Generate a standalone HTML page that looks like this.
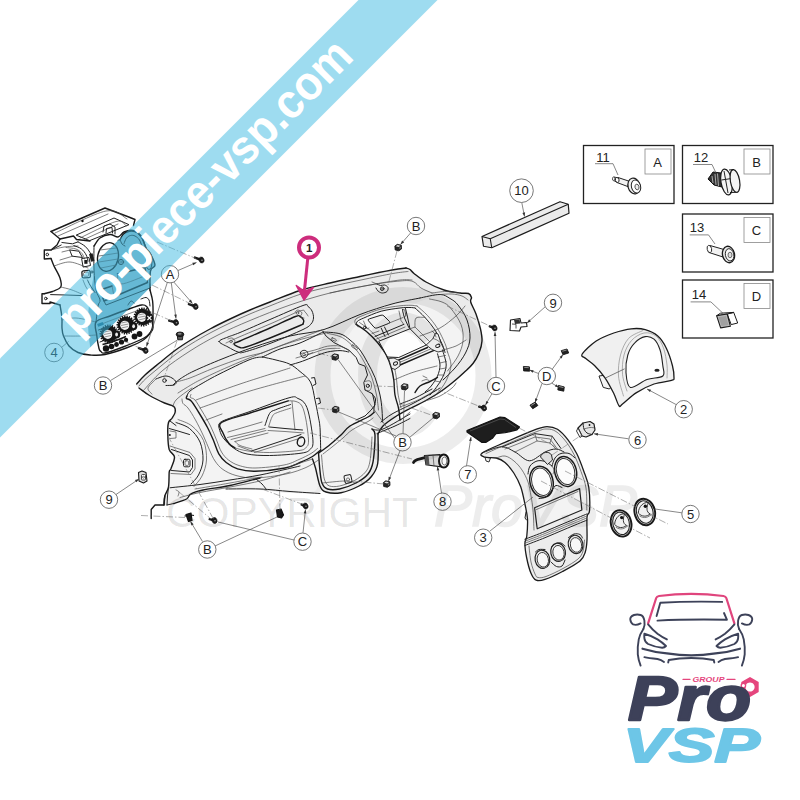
<!DOCTYPE html>
<html><head><meta charset="utf-8"><title>pro-piece-vsp.com</title>
<style>
html,body{margin:0;padding:0;background:#fff;}
body{width:800px;height:800px;overflow:hidden;position:relative;font-family:"Liberation Sans",sans-serif;}
svg{position:absolute;left:0;top:0;display:block;}
.ol{fill:none;stroke:#1a1a1a;stroke-width:1.4;stroke-linecap:round;stroke-linejoin:round;}
.ln{fill:none;stroke:#222;stroke-width:1;stroke-linecap:round;stroke-linejoin:round;}
.th{fill:none;stroke:#484848;stroke-width:.7;stroke-linecap:round;stroke-linejoin:round;}
.th2{fill:none;stroke:#999;stroke-width:.8;stroke-linecap:round;}
.ld{fill:none;stroke:#555;stroke-width:.7;}
.dash{fill:none;stroke:#777;stroke-width:.6;stroke-dasharray:7 2 1.5 2;}
.co circle{fill:#fff;stroke:#555;stroke-width:.8;}
.co text,.lbl{font-family:"Liberation Sans",sans-serif;font-size:13px;fill:#222;text-anchor:middle;}
.body{fill:#f1f1f1;stroke:#222;stroke-width:1.1;stroke-linejoin:round;}
.bx{fill:#fff;stroke:#222;stroke-width:1.3;}
.bxi{fill:#fff;stroke:#888;stroke-width:.8;}
</style></head>
<body>
<svg width="800" height="800" viewBox="0 0 800 800">
<rect width="800" height="800" fill="#fff"/>
<g id="dash_main">
<path d="M136.7,384 C137.7,381.8 141.1,378.6 145,375 C148.9,371.4 155,366.6 160,362.5 C165,358.4 170,354.2 175,350.5 C180,346.8 184.2,344.1 190,340.5 C195.8,336.9 203.3,332.6 210,329 C216.7,325.4 223.3,322.2 230,319 C236.7,315.8 243.3,312.8 250,310 C256.7,307.2 261.7,305.2 270,302 C278.3,298.8 290,293.7 300,290.5 C310,287.3 320,285.3 330,283 C340,280.7 349.7,278.7 360,276.5 C370.3,274.3 384.3,271.4 392,270 C399.7,268.6 403,268.1 406,268 C409,267.9 408.7,268.6 410,269.5 C411.3,270.4 411.3,271.4 414,273.5 C416.7,275.6 421,279.2 426,282 C431,284.8 438.3,288.2 444,290 C449.7,291.8 455.9,292.4 460,293 C464.1,293.6 466.6,292.8 468.5,293.5 C470.4,294.2 471.1,296.1 471.5,297.5 C471.9,298.9 469.9,299.2 470.7,302 C471.4,304.8 474.4,309.5 476,314 C477.6,318.5 479.5,324.5 480.5,329 C481.5,333.5 482.2,337 482,341 C481.8,345 480.5,349.2 479,353 C477.5,356.8 475.5,360.2 473,363.5 C470.5,366.8 467.5,369.2 464,372.5 C460.5,375.8 456,379.8 452,383 C448,386.2 444.5,389 440,392 C435.5,395 430,398.2 425,401 C420,403.8 415,405.8 410,408.5 C405,411.2 399.5,414.1 395,417 C390.5,419.9 385.8,423.2 383,426 C380.2,428.8 378.9,427.8 378,434 C377.1,440.2 378.9,456.3 377.7,463.5 C376.5,470.7 374.1,473.2 371,477 C367.9,480.8 364,483.4 359,486 C354,488.6 346.5,491.7 341,492.7 C335.5,493.7 329.3,492.8 326,492 C322.7,491.2 322.3,487.8 321,488 C319.7,488.2 323.2,492.2 318,493 C312.8,493.8 299.7,493.5 290,493 C280.3,492.5 270.7,490.7 260,490 C249.3,489.3 236.7,488.4 226,489 C215.3,489.6 203.7,491.8 196,493.5 C188.3,495.2 184,497.4 180,499 C176,500.6 174.5,502 172,503 C169.5,504 166.2,506.2 165,505 C163.8,503.8 164.2,499 164.8,496 C165.3,493 167.8,491 168.5,487 C169.2,483 168.9,475 169.2,472 C169.6,469 169.9,471.5 170.8,469 C171.6,466.5 174.8,460.2 174.5,457 C174.2,453.8 170.4,453.2 169.2,449.5 C168.1,445.8 167.9,439 167.8,434.5 C167.6,430 167.8,425.2 168.5,422.5 C169.2,419.8 171.1,419.8 172.2,418 C173.4,416.2 175,413.9 175.2,412 C175.5,410.1 175.5,408 173.8,406.5 C172,405 168.5,404.8 164.5,403 C160.5,401.2 153.8,398 149.5,395.5 C145.2,393 141.1,389.9 139,388 C136.9,386.1 135.7,386.2 136.7,384Z" fill="#ebebeb" stroke="none"/>
<path d="M186,397 C190.3,393.2 196,388 202,384 C208,380 214,377 222,373 C230,369 243,362.7 250,360 C257,357.3 257.3,359.5 264,357 C270.7,354.5 280.3,349 290,345 C299.7,341 312.8,334.3 322,333 C331.2,331.7 339.2,338.3 345,337 C350.8,335.7 350.5,329.4 357,325 C363.5,320.6 376,313.4 384,310.5 C392,307.6 397.3,309.4 405,307.5 C412.7,305.6 422.5,298.9 430,299 C437.5,299.1 444.8,303.8 450,308 C455.2,312.2 458.8,318.5 461,324 C463.2,329.5 463.5,335.7 463,341 C462.5,346.3 460.7,351 458,356 C455.3,361 450.7,365.8 447,371 C443.3,376.2 442.2,381.3 436,387 C429.8,392.7 416.8,400.3 410,405 C403.2,409.7 399.5,411.8 395,415 C390.5,418.2 386.2,420.8 383,424 C379.8,427.2 377.3,427.7 376,434 C374.7,440.3 376.3,455.3 375,462 C373.7,468.7 371.2,470.3 368,474 C364.8,477.7 360.7,481.3 356,484 C351.3,486.7 344.8,489.1 340,490 C335.2,490.9 330.2,490.5 327,489.5 C323.8,488.5 322.5,486.2 321,484 C319.5,481.8 319,474.8 318,476 C317,477.2 319.7,488.6 315,491 C310.3,493.4 299.2,491 290,490.5 C280.8,490 270.7,488.6 260,488 C249.3,487.4 236.7,486.5 226,487 C215.3,487.5 203.7,489.3 196,491 C188.3,492.7 184.7,495 180,497 C175.3,499 170,503.5 168,503 C166,502.5 167.7,497.8 168,494 C168.3,490.2 169.4,484 170,480 C170.6,476 170.8,473.2 171.5,470 C172.2,466.8 173.9,464 174,461 C174.1,458 172.8,455.7 172,452 C171.2,448.3 170,442.7 169.5,439 C169,435.3 168.9,432.7 169,430 C169.1,427.3 169.2,424.8 170,423 C170.8,421.2 172.8,420.8 174,419 C175.2,417.2 176.7,414 177,412 C177.3,410 174.5,409.5 176,407 C177.5,404.5 181.7,400.8 186,397Z" fill="#f3f3f3" stroke="none"/>
<path class="ol" d="M136.7,384 C138.1,382.5 141.1,378.6 145,375 C148.9,371.4 155,366.6 160,362.5 C165,358.4 170,354.2 175,350.5 C180,346.8 184.2,344.1 190,340.5 C195.8,336.9 203.3,332.6 210,329 C216.7,325.4 223.3,322.2 230,319 C236.7,315.8 243.3,312.8 250,310 C256.7,307.2 261.7,305.2 270,302 C278.3,298.8 290,293.7 300,290.5 C310,287.3 320,285.3 330,283 C340,280.7 349.7,278.7 360,276.5 C370.3,274.3 384.3,271.4 392,270 C399.7,268.6 403.7,268.3 406,268"/>
<path class="ol" d="M406,268 C406.7,268.2 408.7,268.6 410,269.5 C411.3,270.4 411.3,271.4 414,273.5 C416.7,275.6 421,279.2 426,282 C431,284.8 438.3,288.2 444,290 C449.7,291.8 455.9,292.4 460,293 C464.1,293.6 466.6,292.8 468.5,293.5 C470.4,294.2 471.1,296.1 471.5,297.5 C471.9,298.9 469.9,299.2 470.7,302 C471.4,304.8 474.4,309.5 476,314 C477.6,318.5 479.5,324.5 480.5,329 C481.5,333.5 482.2,337 482,341 C481.8,345 480.5,349.2 479,353 C477.5,356.8 475.5,360.2 473,363.5 C470.5,366.8 467.5,369.2 464,372.5 C460.5,375.8 456,379.8 452,383 C448,386.2 444.5,389 440,392 C435.5,395 430,398.2 425,401 C420,403.8 415,405.8 410,408.5 C405,411.2 399.5,414.1 395,417 C390.5,419.9 385.8,423.2 383,426 C380.2,428.8 378.8,432.7 378,434"/>
<path class="ol" d="M378,434 C377.9,438.9 378.9,456.3 377.7,463.5 C376.5,470.7 374.1,473.2 371,477 C367.9,480.8 364,483.4 359,486 C354,488.6 346.5,491.7 341,492.7 C335.5,493.7 329.5,493.1 326,492 C322.5,490.9 321.8,490 320,486 C318.2,482 316.8,472.5 315.5,468 C314.2,463.5 313,460.5 312.5,459"/>
<path class="ol" d="M164,505 C164.1,503.5 164,499 164.8,496 C165.5,493 167.8,491 168.5,487 C169.2,483 168.9,475 169.2,472 C169.6,469 169.9,471.5 170.8,469 C171.6,466.5 174.8,460.2 174.5,457 C174.2,453.8 170.4,453.2 169.2,449.5 C168.1,445.8 167.9,439 167.8,434.5 C167.6,430 167.8,425.2 168.5,422.5 C169.2,419.8 171.1,419.8 172.2,418 C173.4,416.2 175,413.9 175.2,412 C175.5,410.1 175.5,408 173.8,406.5 C172,405 168.5,404.8 164.5,403 C160.5,401.2 153.8,398 149.5,395.5 C145.2,393 140.8,389.2 139,388"/>
<path class="ol" d="M164.8,496 L164,505 L155,505 L151.2,509.5 L151.2,518.5"/>
<path class="ln" d="M168.5,487 L167.5,496 L167,505"/>
<path class="th" d="M139,386 C140.2,384.8 142.3,381.8 146,378.5 C149.7,375.2 156,370.1 161,366 C166,361.9 171,357.7 176,354 C181,350.3 185.2,347.6 191,344 C196.8,340.4 204.3,336.1 211,332.5 C217.7,328.9 224.3,325.7 231,322.5 C237.7,319.3 244.3,316.3 251,313.5 C257.7,310.7 262.7,308.8 271,305.5 C279.3,302.2 291,297.2 301,294 C311,290.8 321,288.8 331,286.5 C341,284.2 350.7,282.2 361,280 C371.3,277.8 385.2,274.9 393,273.5 C400.8,272.1 405.5,271.8 408,271.5"/>
<path class="th" d="M143,391 C146.2,387.7 154.2,377.7 162,371 C169.8,364.3 180.7,357 190,351 C199.3,345 208,340.1 218,335 C228,329.9 238,325.5 250,320.5 C262,315.5 276.7,309.6 290,305 C303.3,300.4 316.7,296.3 330,293 C343.3,289.7 358.3,287.2 370,285 C381.7,282.8 393,280.8 400,280 C407,279.2 410,280 412,280"/>
<path class="ln" d="M156,379 C157.5,378.5 162.3,376.2 165,376 C167.7,375.8 170.2,377 172,378 C173.8,379 175.7,380.8 176,382 C176.3,383.2 175.7,384.4 174,385 C172.3,385.6 167.3,385.4 166,385.5"/>
<circle class="ln" cx="164.5" cy="380.5" r="1.8"/>
<path class="th" d="M156,379 C154.7,380.5 148.7,385.5 148,388 C147.3,390.5 151.3,393 152,394"/>
<path class="ln" d="M173,385 C174.2,384 176.5,381.3 180,379 C183.5,376.7 187,374.3 194,371 C201,367.7 212,363 222,359 C232,355 242.7,350.8 254,347 C265.3,343.2 278.3,338.9 290,336 C301.7,333.1 312.3,333.1 324,329.5 C335.7,325.9 348.7,318.8 360,314.5 C371.3,310.2 382,306.8 392,304 C402,301.2 415.3,299 420,298"/>
<path class="th" d="M176,382 C178.3,381.3 183.7,380.3 190,378 C196.3,375.7 205.3,371.3 214,368 C222.7,364.7 234,360.5 242,358 C250,355.5 258.7,353.8 262,353"/>
<path class="th" d="M178,393 C179.3,392.2 182.3,390.2 186,388 C189.7,385.8 193,383.5 200,380 C207,376.5 218.3,371.2 228,367 C237.7,362.8 247.3,358.7 258,354.5 C268.7,350.3 280.7,345.6 292,342 C303.3,338.4 320.3,334.5 326,333"/>
<path class="th" d="M172.7,406.7 C173.2,405.6 173.8,402.4 176,400 C178.2,397.6 183.3,394 186,392 C188.7,390 191,388.7 192,388"/>
<path class="ln" d="M187,396 C187.5,395.2 187.5,393.1 190,391 C192.5,388.9 197,386.4 202,383.5 C207,380.6 212,377.7 220,373.7 C228,369.7 242.9,362.3 250,359.5 C257.1,356.7 260.4,357.4 262.5,357"/>
<path class="ln" d="M262.5,357 C264.8,357.5 271.5,358.8 276,360 C280.5,361.2 285.5,362.1 289.5,364 C293.5,365.9 296.5,368.5 300,371.5 C303.5,374.5 308,377.2 310.5,382 C313,386.8 313.8,394.5 315,400 C316.2,405.5 317.2,410.4 318,415 C318.8,419.6 319.6,421.7 320,427.5 C320.4,433.3 320.6,446.2 320.7,450"/>
<path class="ol" d="M187,396 C186.9,396.4 185.8,397.7 186.5,398.5 C187.2,399.3 189.2,398.7 191.2,401 C193.3,403.3 196,408.1 198.8,412.5 C201.5,416.9 205,422.7 207.5,427.5 C210,432.3 211.9,436.9 213.8,441.2 C215.6,445.6 216.7,450.2 218.8,453.8 C220.8,457.3 223.1,460 226.2,462.5 C229.4,465 232.7,467.3 237.5,468.8 C242.3,470.2 247.1,471.4 255,471.2 C262.9,471.1 277.5,469.5 285,468 C292.5,466.5 295.4,464.4 300,462.5 C304.6,460.6 309.1,458.6 312.5,456.5 C315.9,454.4 319.3,451.1 320.7,450"/>
<path class="th" d="M191,394.5 C190.9,395 189.8,396.6 190.5,397.5 C191.2,398.4 193.1,397.8 195,400 C196.9,402.2 199.4,406.7 202,411 C204.6,415.3 208.1,421.2 210.5,426 C212.9,430.8 214.7,435.7 216.5,440 C218.3,444.3 219.5,448.7 221.5,452 C223.5,455.3 225.6,457.8 228.5,460 C231.4,462.2 234.6,464.2 239,465.5 C243.4,466.8 247.5,468.1 255,468 C262.5,467.9 276.7,466.4 284,465 C291.3,463.6 294.5,461.4 299,459.5 C303.5,457.6 307.9,455.3 311,453.5 C314.1,451.7 316.4,449.3 317.5,448.5"/>
<path class="th" d="M182,399 C182.2,399.8 182,402 183,403.5 C184,405 185.9,405.2 188,408 C190.1,410.8 192.9,415.3 195.5,420 C198.1,424.7 201.2,431 203.5,436 C205.8,441 207.6,445.8 209.5,450 C211.4,454.2 212.8,457.8 215,461 C217.2,464.2 219.5,467.1 223,469.5 C226.5,471.9 230.7,474.1 236,475.5 C241.3,476.9 246.7,478.2 255,478 C263.3,477.8 277.5,475.8 286,474 C294.5,472.2 300.6,469.8 306,467.5 C311.4,465.2 316.4,461.2 318.5,460"/>
<path class="ln" d="M219.2,424 C220.1,422.6 219.4,422.3 224.5,420.2 C229.6,418.2 239.2,415.2 250,411.5 C260.8,407.8 281,399.9 289,397.8 C297,395.6 295.2,397.4 298,398.5 C300.8,399.6 303.5,401 305.5,404.5 C307.5,408 308.8,413.2 310,419.5 C311.2,425.8 313,437 313,442 C313,447 312,447.6 310,449.5 C308,451.4 307.8,452.2 301,453.2 C294.2,454.2 278.5,455.4 269.5,455.5 C260.5,455.6 253,455.2 247,454 C241,452.8 237.5,450.8 233.5,448 C229.5,445.2 225.4,440.8 223,437.5 C220.6,434.2 219.9,430.8 219.2,428.5 C218.6,426.2 218.4,425.4 219.2,424Z"/>
<path class="ol" d="M235,448 C234,447.2 231,446 229,443.5 C227,441 224.2,436.5 223,433 C221.8,429.5 217,425.8 221.5,422.5 C226,419.2 238.9,416.6 250,413 C261.1,409.4 281.9,402.8 288.2,400.8"/>
<path class="th" d="M288.2,400.8 C289.5,400.9 293.7,400.6 296,401.5 C298.3,402.4 300.3,402.9 302,406 C303.7,409.1 304.9,414.2 306,420 C307.1,425.8 308.5,436.4 308.5,441 C308.5,445.6 307.6,445.9 306,447.5 C304.4,449.1 305.1,449.7 299,450.5 C292.9,451.3 278,452.4 269.5,452.5 C261,452.6 253.8,451.8 248,451 C242.2,450.2 237.2,448.5 235,448"/>
<path class="ln" d="M265,425.5 C265.8,423.5 267.8,416.1 269.5,413.5 C271.2,410.9 272,411.2 275.5,409.8 C279,408.2 288,405.4 290.5,404.5"/>
<path class="th" d="M268.5,427 C269.2,425.2 271,418.4 272.5,416 C274,413.6 274.4,413.8 277.5,412.5 C280.6,411.2 288.8,408.8 291,408"/>
<path class="th" d="M292,401.5 L293.5,416 L295,430"/>
<path class="ln" d="M269.5,427 L285,428.5 L302.5,430"/>
<path class="th" d="M268,430.5 L285,431.5 L304,433"/>
<path class="th" d="M227.5,437.5 L265,428.5"/>
<path class="th" d="M231,439.5 L266,430.5"/>
<path class="th" d="M235,441.5 L268,433"/>
<path class="th" d="M228,432 L262,422"/>
<path class="ln" d="M251.5,451 L301,434.5"/>
<path class="th" d="M254.5,452.5 L302.5,437.5"/>
<path class="th" d="M238,446 L251.5,451"/>
<path class="th" d="M235,441.5 C235.8,442.2 237.2,444.2 240,445.5 C242.8,446.8 250,448.4 252,449"/>
<ellipse class="ol" cx="301" cy="441.7" rx="3.6" ry="4.7" transform="rotate(15 301 441.7)"/>
<path class="th" d="M196,400 C203.3,397.3 224.3,389.3 240,384 C255.7,378.7 281.7,370.7 290,368"/>
<path class="th" d="M200,408 C208.3,405.2 232.5,396.3 250,391 C267.5,385.7 295.8,378.5 305,376"/>
<path class="th" d="M206,420 L222,414"/>
<path class="ln" d="M170,487.8 C175,487.2 190,485.8 200,484.5 C210,483.2 220,481.6 230,480 C240,478.4 250.8,476.8 260,475 C269.2,473.2 278.3,471 285,469.5 C291.7,468 297.5,466.6 300,466"/>
<path class="ol" d="M173.8,503.5 C175.9,502.8 183.6,500.6 186.5,499 C189.4,497.4 188.2,495.2 191,493.8 C193.8,492.2 196.5,491.4 203,490 C209.5,488.6 220.5,487.5 230,485.5 C239.5,483.5 255,479.2 260,478"/>
<path class="th" d="M180,497.5 C183.3,496.7 191.7,494.2 200,492.5 C208.3,490.8 219.7,489 230,487 C240.3,485 252,483 262,480.5 C272,478 285.3,473.4 290,472"/>
<path class="th" d="M195,489 C200.8,488 218.8,485 230,483 C241.2,481 256.7,478 262,477"/>
<path class="ln" d="M226,489 C231.7,489 249.3,488.6 260,489 C270.7,489.4 280,490.8 290,491.5 C300,492.2 315,493.2 320,493.5"/>
<path class="ln" d="M256,479 C257,479.8 260.3,482.3 262,484 C263.7,485.7 265.3,488.2 266,489"/>
<path class="ln" d="M167,505 L173.8,503.5"/>
<path class="th" d="M176,490 C176.5,490.3 178.7,491 179,492 C179.3,493 178.2,495.3 178,496"/>
<path class="ln" d="M170,421 L176,425.5"/>
<path class="ln" d="M169.2,428.5 L178,431 L189.5,434.5"/>
<path class="ln" d="M176,422.5 C178.2,423.5 185.5,425.2 189.5,428.5 C193.5,431.8 197.8,436.8 200,442 C202.2,447.2 203.2,454.5 203,460 C202.8,465.5 200.5,471 198.5,475 C196.5,479 192.2,482.5 191,484"/>
<path class="th" d="M178,419.5 C180.3,420.6 187.8,422.5 192,426 C196.2,429.5 201.1,434.8 203.5,440.5 C205.9,446.2 206.8,454.1 206.5,460 C206.2,465.9 204.1,471.6 202,476 C199.9,480.4 195.3,484.8 194,486.5"/>
<path class="ln" d="M171.5,449.5 L189.5,455.5 L192.5,460 L192.5,467.5 L189.5,472 L171.5,470.5"/>
<path class="th" d="M170,446 L190,452.5 L195,458.5 L195,469 L191,474.5 L171,473.5"/>
<rect class="ln" x="183.5" y="459.3" width="6.5" height="7.5" rx="1.5"/>
<rect class="th" x="185" y="460.8" width="3.6" height="4.6" rx="1"/>
<circle cx="169.8" cy="435" r="1.1" fill="#222"/>
<path class="th" d="M170,431 L176,432 L176,438 L170,438.5"/>
<path class="ol" d="M318.5,453 C318.8,456 319.4,466 320,471 C320.6,476 320.8,480 322,483 C323.2,486 324.6,488 327.5,489 C330.4,490 334.8,490 339.5,489 C344.2,488 351.2,485.5 356,483 C360.8,480.5 365.2,477.5 368,474 C370.8,470.5 371.8,468.5 373,462 C374.2,455.5 375.2,440.5 375,435 C374.8,429.5 372.5,430 372,429"/>
<path class="th" d="M321.5,455 C321.8,457.7 322.4,466.7 323,471 C323.6,475.3 323.9,478.5 325,481 C326.1,483.5 327.1,485.2 329.5,486 C331.9,486.8 335.3,486.9 339.5,486 C343.7,485.1 350.2,482.8 354.5,480.5 C358.8,478.2 362.9,475.2 365.5,472 C368.1,468.8 368.9,466.8 370,461 C371.1,455.2 371.7,441 372,437"/>
<path class="ol" d="M318.5,453 C320.2,451.8 325.2,448.5 329,445.5 C332.8,442.5 337.5,438.2 341,435 C344.5,431.8 345.5,429 350,426 C354.5,423 364,419.2 368,417 C372,414.8 373,413.2 374,412.5"/>
<path class="th" d="M323,454 C324.5,452.8 328.7,449.7 332,447 C335.3,444.3 339.7,440.8 343,438 C346.3,435.2 347.8,432.8 352,430 C356.2,427.2 364.5,423.5 368,421.5 C371.5,419.5 372.2,418.6 373,418"/>
<path class="ln" d="M374,412.5 C374,411.8 373.8,410.2 374,408 C374.2,405.8 376,401.5 375.5,399 C375,396.5 371.8,394 371,393"/>
<path class="ln" d="M372,429 C373.8,429 376.7,431.5 383,429 C389.3,426.5 405.5,416.5 410,414"/>
<path class="ln" d="M377,433.5 C380,432.2 389.5,428.5 395,426 C400.5,423.5 407.5,419.8 410,418.5"/>
<path class="th" d="M322,483 C325.8,482.7 339.3,481 345,481 C350.7,481 354.2,482.7 356,483"/>
<rect class="ln" x="344.5" y="475" width="7" height="8" rx="1.5" transform="rotate(-12 348 479)"/>
<circle class="th" cx="348" cy="479.5" r="1.6"/>
<path class="th" d="M290,466.5 C291.7,465.9 296.2,464.2 300,463 C303.8,461.8 310.4,459.7 312.5,459"/>
<path class="ln" d="M219,341.5 C219,339.8 224.5,338.5 228,337 C231.5,335.5 233,335.4 240,332.5 C247,329.6 259.5,324 270,319.5 C280.5,315 296.7,307.7 303,305.5 C309.3,303.3 306.5,305.6 308,306.5 C309.5,307.4 311.1,309.1 312,311 C312.9,312.9 313.7,315.8 313.5,318 C313.3,320.2 312.8,322.1 311,324 C309.2,325.9 309.8,326.2 303,329.5 C296.2,332.8 279.8,339.8 270,343.5 C260.2,347.2 249.8,350.6 244.5,352 C239.2,353.4 240.8,352.8 238,352 C235.2,351.2 231.2,348.8 228,347 C224.8,345.2 219,343.2 219,341.5Z"/>
<path class="ol" d="M234,344 C234,342.9 234,343.7 240,341 C246,338.3 260.8,332.1 270,328 C279.2,323.9 290.5,318.4 295.5,316.5 C300.5,314.6 298.7,315.9 300,316.5 C301.3,317.1 303,318.8 303.5,320 C304,321.2 303.6,322.6 303,323.5 C302.4,324.4 305.5,323.1 300,325.5 C294.5,327.9 279,334.4 270,338 C261,341.6 251,345.4 246,347 C241,348.6 242,348 240,347.5 C238,347 234,345.1 234,344Z"/>
<path class="th" d="M226,343 C228,342.1 230.7,340.7 238,337.5 C245.3,334.3 259.7,328.4 270,324 C280.3,319.6 294.2,313 300,311 C305.8,309 303.7,311.2 305,312 C306.3,312.8 307.5,315.3 308,316"/>
<path class="th" d="M295,312 C295.5,311.7 296.8,309.8 298,310 C299.2,310.2 301.7,311.8 302,313 C302.3,314.2 299.7,316.2 300,317 C300.3,317.8 303.3,317.8 304,318"/>
<circle class="th" cx="297.5" cy="313" r="1.3"/>
<circle class="th" cx="231" cy="341.5" r="1.3"/>
<path class="th" d="M228,339 C228.7,338.8 230.8,337.7 232,338 C233.2,338.3 234.8,340 235,341 C235.2,342 233.3,343.5 233,344"/>
<path class="th" d="M330,293 C336.7,291.7 358.3,287 370,285 C381.7,283 392.8,281.6 400,281 C407.2,280.4 409.5,280.3 413,281.5 C416.5,282.7 417.8,286.1 421,288 C424.2,289.9 430.2,292.2 432,293"/>
<path class="th" d="M262,353 C266.7,351.2 280,345.8 290,342 C300,338.2 316.7,332 322,330"/>
<path class="ln" d="M323.1,331.9 C325.9,332.2 335.5,332.4 340,333.8 C344.5,335.1 346.7,337.3 350,340 C353.3,342.7 357.1,346.2 360,350 C362.9,353.8 365,357.9 367.5,362.5 C370,367.1 372.9,372.1 375,377.5 C377.1,382.9 378.8,389.6 380,395 C381.2,400.4 381.6,405.5 382,410 C382.4,414.5 382.4,420 382.5,422"/>
<path class="ln" d="M323.1,331.9 L326.2,336.2 L333.8,342.5 L348.8,350 L356.2,357.5 L358.8,363.8 L365,366.2 L367.5,375 L363.8,382.5 L365,390 L372.5,393.8 L375,405 L371.2,410 L365,416 L356,420"/>
<path class="th" d="M327,333.3 C329.2,333.8 336.3,335 340,336.5 C343.7,338 346,339.9 349,342.5 C352,345.1 355.3,348.5 358,352 C360.7,355.5 362.7,359.2 365,363.5 C367.3,367.8 370.1,372.8 372,378 C373.9,383.2 375.4,389.7 376.5,395 C377.6,400.3 378.2,407.5 378.5,410"/>
<rect x="331" y="338.5" width="5.5" height="2" rx="1" class="th" transform="rotate(25 333.7 339.5)"/>
<rect x="351" y="346.3" width="7" height="2" rx="1" class="th" transform="rotate(35 354.5 347.3)"/>
<path class="ln" d="M290,365 C292.1,364.4 298.3,362.7 302.5,361.2 C306.7,359.8 310.8,357.8 315,356.2 C319.2,354.7 323.3,352.9 327.5,352 C331.7,351.1 336.5,350.6 340,350.6 C343.5,350.6 347.3,351.8 348.8,352"/>
<path class="th" d="M300,353.8 C302.5,353.1 310.4,351.2 315,350 C319.6,348.8 323.3,346.9 327.5,346.2 C331.7,345.6 336.2,345.4 340,346.2 C343.8,347.1 348.3,350.4 350,351.2"/>
<path class="th" d="M296,358 C298.3,357.3 305,355.5 310,354 C315,352.5 321,349.9 326,349 C331,348.1 337.7,348.4 340,348.3"/>
<path class="ln" d="M300.5,352.5 C300.7,351.4 302,350.8 303,350.5 C304,350.2 305.7,350.3 306.5,351 C307.3,351.7 308.2,353.4 308,354.5 C307.8,355.6 306,357.1 305,357.5 C304,357.9 302.8,357.8 302,357 C301.2,356.2 300.3,353.6 300.5,352.5Z"/>
<circle class="th" cx="304" cy="354.5" r="1.3"/>
<path class="th" d="M308,354.5 L313,352.5"/>
<path class="ln" d="M262.5,357 C265.4,355.7 273.8,351.3 280,349 C286.2,346.7 292.8,345.9 300,343 C307.2,340.1 319.2,333.8 323.1,331.9"/>
<path class="ln" d="M311.5,378 L314.5,377.5 L316,384 L313,385.5"/>
<path class="ln" d="M316.5,398.5 L319.5,398 L320.5,403 L318,404"/>
<circle class="ln" cx="367.8" cy="385.8" r="1.6"/>
<path class="th" d="M365,381.5 C365.8,381.4 368.9,380.2 370,381 C371.1,381.8 371.6,384.4 371.5,386 C371.4,387.6 370.6,389.8 369.5,390.5 C368.4,391.2 365.8,390.1 365,390"/>
<path d="M356.5,324.5 L357.5,321 L364,318 L381,311.3 L400,308 L415,308 L425,317.5 L435,330 L442.5,345 L446,365 L442.5,377.5 L436,387.5 L420,392 L400,404 L395,395 L393.75,380 L391,367.5 L386,355 L377.5,342.5 L366,331.3Z" fill="#f6f6f6" stroke="none"/>
<path class="ol" d="M356.2,324.4 C357.9,325.5 362.7,328.2 366.2,331.2 C369.8,334.3 374.2,338.5 377.5,342.5 C380.8,346.5 384,350.8 386.2,355 C388.5,359.2 390,363.3 391.2,367.5 C392.5,371.7 393.1,375.4 393.8,380 C394.4,384.6 394.2,390.3 395,395 C395.8,399.7 397.7,403.8 398.5,408 C399.3,412.2 399.8,418 400,420"/>
<path class="th" d="M359.5,322.5 C361.1,323.7 365.6,326.5 369,329.5 C372.4,332.5 376.7,336.5 380,340.5 C383.3,344.5 386.7,349.2 389,353.5 C391.3,357.8 392.8,361.8 394,366 C395.2,370.2 395.8,374.3 396.5,379 C397.2,383.7 397.2,389.2 398,394 C398.8,398.8 400.5,405.7 401,408"/>
<path class="ln" d="M356.2,324.4 C356.5,323.9 356.2,322.3 357.5,321.2 C358.8,320.2 359.8,319.7 363.8,318 C367.7,316.3 375.2,312.9 381.2,311.2 C387.3,309.6 395.2,308.6 400,308 C404.8,307.4 407.5,307.5 410,307.5 C412.5,307.5 414.2,307.9 415,308"/>
<path class="th" d="M358,327 C357.5,326.3 355.3,324.3 355,323 C354.7,321.7 354.7,320.2 356,319 C357.3,317.8 358.8,317.2 363,315.5 C367.2,313.8 374.8,310.6 381,309 C387.2,307.4 395,306.4 400,305.8 C405,305.2 408.2,305.3 411,305.3 C413.8,305.3 416,305.9 417,306"/>
<path class="ln" d="M415,308 C416.7,309.6 421.7,313.8 425,317.5 C428.3,321.2 432.1,325.4 435,330 C437.9,334.6 440.8,341.2 442.5,345 C444.2,348.8 444.6,351.2 445,352.5"/>
<path class="th" d="M417,306 C418.8,307.6 424.1,311.8 427.5,315.5 C430.9,319.2 434.6,323.8 437.5,328.5 C440.4,333.2 443.3,339.6 445,343.5 C446.7,347.4 447.1,350.6 447.5,352"/>
<path d="M368.5,320.8 Q367,319.5 369.5,318.8 L381,315.2 Q383,314.8 384,316 L389.5,321.5 Q390.5,323 388.5,323.5 L377,328 Q375,328.5 374,327.2Z" fill="#f1f1f1" stroke="#222" stroke-width="1"/>
<path class="ln" d="M381.2,328.1 L385,336.5"/>
<path class="ln" d="M384.5,327 L388.5,335"/>
<path class="th" d="M363.5,321 L367,329 L369,328"/>
<circle class="ln" cx="364.8" cy="327.5" r="1.3"/>
<path class="ln" d="M375,336.5 L403.8,324.4"/>
<path class="th" d="M376.5,339 L405,327"/>
<path class="th" d="M372,333.5 L379,331"/>
<path class="th" d="M388,323.5 L403,317.5"/>
<path class="ln" d="M402.5,309.5 L404.5,318 L408.8,327.5"/>
<path class="ln" d="M405.5,308.5 L407.5,317 L410,328.8"/>
<path class="th" d="M399,311 L401,320.5 L403.8,324.4"/>
<rect x="403.3" y="309.5" width="2" height="7" rx="1" fill="#fff" stroke="#222" stroke-width=".7" transform="rotate(-12 404.3 313)"/>
<path d="M378.75,341.25 L410,328.75 L426.25,345 L398.75,357.5 L387.5,357Z" fill="#fdfdfd" stroke="#222" stroke-width="1" stroke-linejoin="round"/>
<path class="th" d="M410,328.8 L415,327 L431,343 L426.2,345"/>
<path class="th" d="M415,327 C415.2,325.5 414.3,319.6 416,318 C417.7,316.4 423.5,317.6 425,317.5"/>
<path class="ol" d="M398.8,360 L427.5,347.5"/>
<path class="ol" d="M400,365 L437.5,348.8"/>
<path class="th" d="M399.5,362.5 L432,348.3"/>
<path d="M388.5,358.5 L394,358 L400,361 L400,366 L395,369.5 L391.5,368Z" fill="#eee" stroke="#222" stroke-width=".9" stroke-linejoin="round"/>
<ellipse class="ln" cx="395.5" cy="363.5" rx="2.2" ry="1.5" transform="rotate(-20 395.5 363.5)"/>
<path d="M426.25,345 L433,338.5 L435.5,333 L438,334 L441,343 L444.5,350.5 L438,352 L432,349.5Z" fill="#eee" stroke="#222" stroke-width=".9" stroke-linejoin="round"/>
<ellipse class="ln" cx="437.8" cy="345.8" rx="2.2" ry="1.5" transform="rotate(-20 437.8 345.8)"/>
<path class="th" d="M433,338.5 C433.7,338.8 435.7,339.2 437,340 C438.3,340.8 440.3,342.5 441,343"/>
<path class="th" d="M432,331 C432.4,331.4 433.8,332.5 434.5,333.5 C435.2,334.5 435.8,336.4 436,337"/>
<path class="ln" d="M442.5,350 C443.1,352.5 446.2,360.4 446.2,365 C446.2,369.6 444.2,373.8 442.5,377.5 C440.8,381.2 438.3,384.6 436.2,387.5 C434.2,390.4 431,393.8 430,395"/>
<path class="ln" d="M437.5,353.8 C437.9,355.6 440,361.3 440,365 C440,368.7 439,372.5 437.5,376 C436,379.5 433.3,383.3 431.2,386 C429.2,388.7 426,391 425,392"/>
<path class="th" d="M447.5,352 C448.1,354.2 451.1,360.5 451,365 C450.9,369.5 448.8,374.9 447,379 C445.2,383.1 442.7,386.6 440.5,389.5 C438.3,392.4 435.1,395.3 434,396.5"/>
<path class="th" d="M438,357 L445.5,355.5"/>
<path class="th" d="M440,363 L446.3,361.5"/>
<path class="th" d="M440,369 L446,368"/>
<path class="th" d="M438.5,375 L444,375"/>
<path class="th" d="M435,381 L440.5,382"/>
<path class="ol" d="M415,392.5 C415.8,391.4 417.5,387.8 420,386 C422.5,384.2 427.1,382.9 430,381.5 C432.9,380.1 436.2,378.2 437.5,377.5"/>
<path class="ln" d="M400,404 C402.5,403 409.7,400.5 415,398 C420.3,395.5 429.2,390.5 432,389"/>
<path class="th" d="M400,407 C403,405.8 412,402.8 418,400 C424,397.2 433,391.7 436,390"/>
<path class="th" d="M422,381 C422.7,380.8 424.8,379.6 426,379.5 C427.2,379.4 428.5,380.3 429,380.5"/>
<path class="th" d="M423,376 L427,378"/>
<path class="th" d="M393.8,380 C397.1,378.7 406.8,374.3 414,372 C421.2,369.7 433.2,367 437,366"/>
<path class="ln" d="M420,298 C423.3,297.4 435,294.4 440,294.5 C445,294.6 447,296.8 450,298.5 C453,300.2 455.2,301.4 458,305 C460.8,308.6 465,314.5 467,320 C469,325.5 470.2,332.5 470,338 C469.8,343.5 468,348 465.5,353 C463,358 458.8,363.5 455,368 C451.2,372.5 445,378 443,380"/>
<path class="th" d="M429.5,299 C431.6,299.5 438.5,300.5 442,302 C445.5,303.5 447.3,304.2 450.5,308 C453.7,311.8 458.9,319 461,324.5 C463.1,330 463.5,335.8 463,341 C462.5,346.2 460.6,351 458,356 C455.4,361 449.2,368.5 447.5,371"/>
<path class="th" d="M440,294.5 C442,294.4 448.3,293.8 452,294 C455.7,294.2 459.3,295 462,296 C464.7,297 467,299.3 468,300"/>
<path class="th" d="M432,293 C434.3,292.8 441.7,291.5 446,291.5 C450.3,291.5 456,292.8 458,293"/>
<path class="th" d="M420,336 C423.3,334.7 434,331.3 440,328 C446,324.7 451.8,319.7 456,316 C460.2,312.3 463.5,307.7 465,306"/>
<path class="th" d="M443,350 C445.2,349.3 452.2,347.7 456,346 C459.8,344.3 464.3,341 466,340"/>
<path class="th" d="M425,401 C427.5,400.2 435.5,398.2 440,396 C444.5,393.8 449.3,390.2 452,388 C454.7,385.8 455.3,383.8 456,383"/>
<path class="ln" d="M381,422 C382.8,420.7 387.2,416.8 392,414 C396.8,411.2 404.5,407.8 410,405 C415.5,402.2 420,399.8 425,397 C430,394.2 437.5,389.5 440,388"/>
<path class="th" d="M401,420 L410,412"/>
<path class="ln" d="M377,284 C377.6,284.2 379.2,285.3 380.5,285.5 C381.8,285.7 383.2,284.7 384.5,285 C385.8,285.3 387.6,286.4 388,287.5 C388.4,288.6 387.9,290.6 387,291.5 C386.1,292.4 383.9,293 382.5,293 C381.1,293 379.6,292.3 378.5,291.5 C377.4,290.7 376.4,288.6 376,288"/>
<circle class="ln" cx="382.2" cy="288.7" r="1.8"/>
<circle class="th" cx="382.2" cy="288.7" r=".8"/>
<path class="th" d="M372,282 L377,284"/>
</g>
<g id="part4">
<path d="M51,231.5 L105,208 L127.5,216.5 L135,219.5 L141,226 L147,240 L150,252 L155,265 L151,272 L150,290 L152.6,301 L153,330 L144,340 L127.5,347.5 L105,354.5 L84,354.5 L69,350 L62,339.5 L62,320 L61.5,314 L60,305 L50,302 L50,303.5 L42,303.5 L42,293.7 L52.5,291.5 L60.7,287 L60,278 L54,266 L51,258.5 L44.3,259 L44.3,250 L51,250 L57,245 L62,240.5 L60,239Z" fill="#fff" stroke="none"/>
<clipPath id="bclip"><polygon points="358.5,0 437.5,0 0,437.5 0,358.5"/></clipPath>
<path d="M94,246 C95.1,239.8 97.3,239.9 100,238 C102.7,236.1 107,234.7 110,234.5 C113,234.3 115.7,237.4 118,237 C120.3,236.6 121.5,233.1 124,232 C126.5,230.9 130.2,229.8 133,230.5 C135.8,231.2 138.8,233.1 141,236 C143.2,238.9 144.5,245.2 146,248 C147.5,250.8 148.5,250.2 150,253 C151.5,255.8 154.9,262 155,265 C155.1,268 151.3,266.8 150.5,271 C149.7,275.2 149.7,285 150,290 C150.3,295 152.1,294.5 152.6,301 C153.1,307.5 154.4,322.6 153,329 C151.6,335.4 148.2,336.4 144,339.5 C139.8,342.6 134,345 127.5,347.5 C121,350 110.8,353.3 105,354.5 C99.2,355.7 95.6,356.6 93,354.5 C90.4,352.4 90.3,347.8 89.5,342 C88.7,336.2 87.9,327.7 88,320 C88.1,312.3 89.1,303.5 90,296 C90.9,288.5 92.8,283.3 93.5,275 C94.2,266.7 92.9,252.2 94,246Z" fill="#8fb8c8" stroke="none" clip-path="url(#bclip)"/>
<path class="ol" d="M51,231.5 L105,208 L127.5,216.5 L135,219.5 L133.5,225.5"/>
<path class="ol" d="M51,231.5 L60,239 L73.5,236 L76.5,239.5 L90,241"/>
<path class="ln" d="M76.5,235 L114,218 L129,224.7 L90,240.5Z"/>
<path class="th" d="M55,233 C63.5,229.3 94,213.3 106,211 C118,208.7 123.5,217.7 127,219"/>
<path class="th" d="M58,236 L108,214"/>
<path class="th" d="M80,238 C86,235.2 108.3,223.5 116,221.5 C123.7,219.5 124.3,225.2 126,226"/>
<path class="th" d="M84,239.5 L118,224"/>
<circle cx="82.5" cy="221" r="1.2" fill="#111"/>
<path class="ol" d="M60,239 L57,245 L51,250 L44.3,250 L44.3,259 L51,258.5"/>
<path class="ol" d="M51,258.5 C51.5,259.8 52.5,262.8 54,266 C55.5,269.2 58.9,274.5 60,278 C61.1,281.5 62,284.8 60.7,287 C59.5,289.2 55.2,290.4 52.5,291.5 C49.8,292.6 45.7,293.3 44.3,293.7"/>
<path class="ol" d="M44.3,293.7 L42,293.7 L42,303.5 L50,303.5 L50,302 L60,305"/>
<path class="ol" d="M60,305 C60.2,306.5 61.2,311.5 61.5,314 C61.8,316.5 61.9,317.7 62,320 C62.1,322.3 61.8,325.3 62,328 C62.2,330.7 62.3,333 63.5,336 C64.7,339 66.6,343.2 69,346 C71.4,348.8 74.5,351 78,352.5 C81.5,354 85.5,354.7 90,355 C94.5,355.3 98.8,355.8 105,354.5 C111.2,353.2 121,350 127.5,347.5 C134,345 139.9,342.6 144,339.5 C148.1,336.4 150.5,333.1 152,329 C153.5,324.9 152.9,319.7 153,315 C153.1,310.3 153.1,305.2 152.6,301 C152.1,296.8 150.4,291.8 150,290"/>
<circle class="ln" cx="47.3" cy="254.5" r="1.3"/>
<circle class="ln" cx="45.8" cy="298.5" r="1.3"/>
<path class="th" d="M51,250 C53.2,249.5 59.5,247.7 64,247 C68.5,246.3 75.7,246.2 78,246"/>
<path class="th" d="M62,320 C64.3,319.7 70.3,317.7 76,318 C81.7,318.3 92.7,321.3 96,322"/>
<path class="th" d="M63.5,336 C66.2,336 74.6,336.2 80,336 C85.4,335.8 93.3,335.2 96,335"/>
<path class="th" d="M54,266 C56.7,265.3 64.3,261.7 70,262 C75.7,262.3 85,267 88,268"/>
<path class="ln" d="M61.9,242.5 L72.5,243.8 L78,241.9"/>
<path class="ln" d="M78,241.9 C79.2,242.6 83,244.5 85,246.2 C87,248 88.7,250.2 90,252.5 C91.3,254.8 92.5,258.8 93,260"/>
<path class="ln" d="M73.8,245.6 C75,246.1 79.2,247.2 81.2,248.8 C83.3,250.3 85.1,252.9 86.2,255 C87.4,257.1 87.7,260.2 88,261.2"/>
<path class="th" d="M66,247.5 C67.7,247.8 73.3,248 76,249 C78.7,250 80.6,251.8 82,253.5 C83.4,255.2 84.1,258.1 84.5,259"/>
<path class="ln" d="M51.2,250 L61.2,245"/>
<path class="ln" d="M70,250 L78.8,251.2 L82.5,257.5 L72.5,256.2Z"/>
<path class="th" d="M62,252 L70,250"/>
<path class="th" d="M60,260 L72.5,256.2"/>
<rect x="90" y="253.5" width="3.6" height="8" fill="#1c1c1c" transform="rotate(-14 91.8 257.5)"/>
<rect x="84.3" y="260" width="3.2" height="3.8" fill="#1c1c1c"/>
<path class="ln" d="M82,258.5 L89,257.5 L90.5,265.5 L83.5,267Z"/>
<rect x="82" y="270.6" width="8.3" height="7.2" rx="1.6" fill="none" stroke="#1a1a1a" stroke-width="1.3" transform="rotate(-4 86 274)"/>
<rect x="83.6" y="272.2" width="5" height="4" rx="1" class="th"/>
<circle class="ln" cx="92" cy="272" r="1.1"/>
<path class="ln" d="M87.5,280 C87.9,280.8 88.8,282.9 90,285 C91.2,287.1 94.2,291.2 95,292.5"/>
<path class="th" d="M83,280 C83.5,281.2 84.7,284.7 86,287 C87.3,289.3 90.2,292.8 91,294"/>
<path class="ln" d="M50.6,294.6 L66,295 L83.8,295.6"/>
<path class="th" d="M60.7,287 C62.6,287.5 67.8,288.5 72,290 C76.2,291.5 83.7,295 86,296"/>
<path class="ol" d="M94,246 C95,244.7 97.3,239.9 100,238 C102.7,236.1 107,234.7 110,234.5 C113,234.3 115.7,237.4 118,237 C120.3,236.6 121.5,233.1 124,232 C126.5,230.9 130.2,229.8 133,230.5 C135.8,231.2 138.8,233.1 141,236 C143.2,238.9 144.5,245.2 146,248 C147.5,250.8 148.5,250.2 150,253 C151.5,255.8 154.9,262 155,265 C155.1,268 151.3,266.8 150.5,271 C149.7,275.2 150.1,286.8 150,290"/>
<path class="ln" d="M94,246 C94,250 93.7,262.7 94,270 C94.3,277.3 95,285 96,290 C97,295 99.7,297.3 100,300 C100.3,302.7 98.7,302.3 98,306 C97.3,309.7 96.3,319.3 96,322"/>
<ellipse class="ol" cx="108" cy="257" rx="10.3" ry="14.5" transform="rotate(12 108 257)"/>
<path class="ol" d="M120,240 C120.5,239.1 121.8,235.8 123,234.5 C124.2,233.2 125.5,232.6 127,232 C128.5,231.4 130.3,230.9 132,231 C133.7,231.1 135.3,231.3 137,232.5 C138.7,233.7 140.5,235.4 142,238 C143.5,240.6 144.8,244.7 146,248 C147.2,251.3 148.5,256.3 149,258"/>
<path class="ln" d="M124,243.5 C124.4,242.6 125.4,239.3 126.5,238 C127.6,236.7 129.1,235.8 130.5,235.5 C131.9,235.2 133.5,235.2 135,236 C136.5,236.8 138.2,238 139.5,240 C140.8,242 142,246.7 142.5,248"/>
<path class="ln" d="M118,240.5 C118.3,240.4 119.3,239.4 120,240 C120.7,240.6 121.2,243 122,244 C122.8,245 124.5,245.7 125,246"/>
<path class="th" d="M100,250 L116,248"/>
<path class="th" d="M99,256 L118,253"/>
<path class="th" d="M99,262 L118,259"/>
<path class="th" d="M101,268 L116,265"/>
<circle class="ln" cx="121" cy="262" r="2.6"/>
<circle class="th" cx="121" cy="262" r="1.2"/>
<path class="ln" d="M103,232 L104,226 L110,224 L115,227 L115,234"/>
<path class="ln" d="M106,233 L106.5,228.5 L112,227.5 L112.5,233"/>
<path class="ol" d="M117.5,274 L145,267.5 L147.5,282.5 L104,301 L100,290 L112,286"/>
<path class="ln" d="M100,290 L104,301 L106,305 L150,288 L150,284"/>
<path class="th" d="M112,286 L114,296"/>
<path class="th" d="M117.5,274 C118.1,275.7 116.1,283.8 121,284 C125.9,284.2 142.7,276.5 147,275"/>
<path class="ln" d="M150,253 C151,253.3 151.8,255.5 152,258 C152.2,260.5 151.8,266.3 151,268 C150.2,269.7 147.8,270 147,268 C146.2,266 145.5,258.5 146,256 C146.5,253.5 149,252.7 150,253Z"/>
<path class="ol" d="M96,322 C98.2,318.8 105,318 110,316 C115,314 120.7,311.8 126,310 C131.3,308.2 138.2,305.5 141.7,305 C145.2,304.5 145.6,305.5 147,307 C148.4,308.5 149,310.6 150,314 C151,317.4 153,324.3 153,327.5 C153,330.7 151.5,331.2 150,333 C148.5,334.8 148.5,335.7 144,338 C139.5,340.3 129.5,344.5 123,347 C116.5,349.5 108.7,352.2 105,353 C101.3,353.8 102,352.2 101,351.5 C100,350.8 99.7,351.2 99,348.5 C98.3,345.8 97.2,339.4 96.7,335 C96.2,330.6 93.8,325.2 96,322Z"/>
<path class="th" d="M99,325 C101.2,324.2 107.2,321.8 112,320 C116.8,318.2 123,315.8 128,314 C133,312.2 139.7,309.8 142,309"/>
<rect x="97.5" y="323" width="6" height="3" fill="#1d5f7a" transform="rotate(-20 100 324.5)"/>
<path class="ln" d="M98.5,330 L104,328 L105,340 L100,342"/>
<circle cx="109" cy="334" r="8.3" fill="#161616"/>
<circle cx="109" cy="334" r="8.6" fill="none" stroke="#111" stroke-width="1.8" stroke-dasharray="1.3 1.1"/>
<circle cx="107.8" cy="334.3" r="4.6" fill="#f4f4f4"/>
<path d="M104.5,332 L111,330.5 M104,334.5 L111.5,333 M104.5,337 L111,335.5" stroke="#555" stroke-width=".6" fill="none"/>
<circle cx="126" cy="325" r="8.3" fill="#161616"/>
<circle cx="126" cy="325" r="8.6" fill="none" stroke="#111" stroke-width="1.8" stroke-dasharray="1.3 1.1"/>
<circle cx="124.8" cy="325.3" r="4.6" fill="#f4f4f4"/>
<path d="M121.5,323 L128,321.5 M121,325.5 L128.5,324 M121.5,328 L128,326.5" stroke="#555" stroke-width=".6" fill="none"/>
<circle cx="143" cy="317" r="8.3" fill="#161616"/>
<circle cx="143" cy="317" r="8.6" fill="none" stroke="#111" stroke-width="1.8" stroke-dasharray="1.3 1.1"/>
<circle cx="141.8" cy="317.3" r="4.6" fill="#f4f4f4"/>
<path d="M138.5,315 L145,313.5 M138,317.5 L145.5,316 M138.5,320 L145,318.5" stroke="#555" stroke-width=".6" fill="none"/>
<circle cx="116.3" cy="334.5" r="4" fill="#151515"/>
<ellipse cx="116.6" cy="334.5" rx="1.4" ry="2" fill="#eee"/>
<circle cx="133.3" cy="326.3" r="4" fill="#151515"/>
<ellipse cx="133.60000000000002" cy="326.3" rx="1.4" ry="2" fill="#eee"/>
<circle cx="149.4" cy="318" r="4" fill="#151515"/>
<path d="M147.4,316 L151.4,320 M151.4,316 L147.4,320" stroke="#fff" stroke-width="1.1" fill="none"/>
<circle cx="106" cy="348.5" r="3.2" fill="#151515"/>
<circle cx="111.5" cy="346.5" r="2.8" fill="#151515"/>
<circle cx="116.5" cy="344.5" r="2.4" fill="#151515"/>
<circle cx="121.5" cy="342" r="2.6" fill="#151515"/>
<circle cx="126" cy="340" r="2.2" fill="#151515"/>
<circle cx="134.5" cy="336.5" r="2.9" fill="#151515"/>
<circle cx="139.5" cy="334" r="2.9" fill="#151515"/>
<path d="M102.5,344.5 C110,343 118,340 126,336.5" stroke="#151515" stroke-width="1.6" fill="none"/>
<path class="ln" d="M141,299 C141.8,298.8 144.7,297.3 146,297.5 C147.3,297.7 148.3,298.6 149,300 C149.7,301.4 149.8,305 150,306"/>
<path class="ln" d="M128,305 C128.5,304.3 130,301.3 131,301 C132,300.7 133.5,302.7 134,303"/>
</g>
<g id="part2">
<path d="M599,376 L603.25,387.4 L609.4,389 L612,386 L606,375Z" fill="#f4f4f4" stroke="#222" stroke-width="1"/>
<path d="M582.2,354 C584,351.1 591,344.5 596.2,341 C601.5,337.5 607.9,335 613.8,333 C619.6,331 626,329.3 631.2,328.8 C636.5,328.2 640.9,328.4 645.2,329.6 C649.6,330.8 654,332.7 657.5,335.8 C661,338.8 663.8,343 666.2,348 C668.7,353 671.1,360.5 672.4,365.5 C673.7,370.5 674.1,375.3 674,377.8 C673.9,380.2 674.8,379.4 671.5,380.4 C668.2,381.4 659.8,382 654,384 C648.2,386 641.8,389.3 636.5,392.6 C631.2,395.9 625.4,401.8 622.5,404 C619.6,406.2 620.5,407.5 619,405.8 C617.5,404 616.1,398.2 613.8,393.5 C611.4,388.8 608.2,382.4 605,377.8 C601.8,373.1 597.7,368.7 594.5,365.5 C591.3,362.3 587.8,360.4 585.8,358.5 C583.7,356.6 580.5,356.9 582.2,354Z" fill="#f0f0f0" stroke="#1c1c1c" stroke-width="1.3" stroke-linejoin="round"/>
<path d="M630.4,387.4 C626.9,386.2 626.4,377.9 626,372.5 C625.6,367.1 626.3,360 627.8,355 C629.2,350 631.8,345.8 634.8,342.8 C637.7,339.7 642,337.2 645.2,336.6 C648.5,336 651.5,337.1 654,339.2 C656.5,341.4 658.5,345.4 660,349.8 C661.5,354.1 662.3,361.1 662.8,365.5 C663.2,369.9 665.4,373.7 662.8,376 C660.1,378.3 652.4,377.6 647,379.5 C641.6,381.4 633.9,388.6 630.4,387.4Z" fill="#fff" stroke="#222" stroke-width="1.1"/>
<path class="th2" d="M627,391 C626.2,388.2 623,380.2 622.5,374.2 C622,368.2 622.5,360.6 624,355 C625.5,349.4 628.2,344.2 631.5,340.5 C634.8,336.8 639.9,333.8 644,333 C648.1,332.2 652.8,333.5 656,336 C659.2,338.5 661.7,343.2 663.5,348 C665.3,352.8 666.4,360 667,365 C667.6,370 667,375.8 667,378"/>
<path class="th2" d="M623.5,396 C622.7,392.7 619,382.8 618.5,376 C618,369.2 618.8,361.2 620.5,355 C622.2,348.8 624.8,342.6 628.5,338.5 C632.2,334.4 640.6,331.8 643,330.5"/>
<path class="th" d="M605.9,377.8 L624.2,369"/>
<ellipse cx="657" cy="370.2" rx="2.6" ry="1.5" fill="#222"/>
</g>
<g id="part3">
<path d="M467,430.5 L500,417 L505,417.7 L519.5,427 L517,429.8 L505,432.75 L496,433.6 L492.75,438 L485.75,442.4 L482,442.5 L467,432Z" fill="#1e1e1e" stroke="#111" stroke-width="1.2" stroke-linejoin="round"/>
<path d="M470,431 L500,419 L504.5,419.5 L516,427.5" fill="none" stroke="#777" stroke-width=".5"/>
<path d="M485,457 L486,461 L489,462 L490.5,458Z" fill="#eee" stroke="#222" stroke-width=".9"/>
<path d="M482.2,452.9 C485.6,450.4 496,446.3 505,442.4 C514,438.5 529.5,431.9 536.5,429.2 C543.5,426.6 543.5,426.6 547,426.6 C550.5,426.6 554,427.1 557.5,429.2 C561,431.4 564.8,435.7 568,439.8 C571.2,443.8 574.1,448.5 576.8,453.8 C579.4,459 581.8,465.6 583.8,471.2 C585.8,476.9 587.8,481 588.8,487.5 C589.7,494 589.9,505.3 589.6,510.2 C589.3,515.2 587.4,512.3 587,517.2 C586.6,522.2 587.3,534.2 587,540 C586.7,545.8 586.4,548.8 585.2,552.2 C584.1,555.8 583.8,557.8 580,561 C576.2,564.2 568.3,568.4 562.5,571.5 C556.7,574.6 549.4,577.9 545,579.4 C540.6,580.9 538.6,581.3 536.2,580.2 C533.9,579.2 532.6,577 531,573.2 C529.4,569.5 527.6,562.5 526.6,557.5 C525.6,552.5 524.9,547.1 524.9,543.5 C524.9,539.9 526.4,540.1 526.8,536 C527.2,531.9 527.8,524.2 527.5,519 C527.2,513.8 526.1,509.8 525,504.5 C523.9,499.2 522.6,492.2 520.8,487 C518.9,481.8 516.4,477.1 513.8,473 C511.1,468.9 507.9,465 505,462.5 C502.1,460 499.6,458.9 496.2,458 C492.9,457.1 487.2,458.1 484.9,457.2 C482.6,456.4 478.9,455.4 482.2,452.9Z" fill="#ededed" stroke="#1c1c1c" stroke-width="1.3" stroke-linejoin="round"/>
<path class="th" d="M486,453.5 C489.3,452 497.5,448.2 506,444.5 C514.5,440.8 530.2,434.1 537,431.5 C543.8,428.9 543.8,429 547,429 C550.2,429 552.9,429.5 556,431.5 C559.1,433.5 562.5,437.2 565.5,441 C568.5,444.8 571.4,449.4 574,454.5 C576.6,459.6 579,465.9 581,471.5 C583,477.1 585,481.6 586,488 C587,494.4 586.7,506.3 586.8,510"/>
<path class="ln" d="M482.2,452.9 C485.5,451.9 496,446.9 501.5,446.8 C507,446.6 510.3,449.7 515,452 C519.7,454.3 524.5,460.8 529.5,460.8 C534.5,460.8 540.6,454 545,452 C549.4,450 552.8,449 556,449 C559.2,449 562.7,451.5 564,452"/>
<path class="ln" d="M502.4,446.8 L534.8,433.6 L552.2,436.2 L561,448.5"/>
<path class="th" d="M505,449 L535,437 L550,439 L557,448.5"/>
<path class="th" d="M534.8,433.6 L537,441 L550,443 L552.2,436.2"/>
<path class="th" d="M515,452 L537,441"/>
<path class="th" d="M550,443 L556,449"/>
<path class="th" d="M496.2,458 C497.7,457.7 502,455.5 505,456 C508,456.5 511.2,458.7 514,461 C516.8,463.3 519.7,466.5 522,470 C524.3,473.5 526.5,477.7 528,482 C529.5,486.3 530.2,491.3 531,496 C531.8,500.7 532.5,504.3 533,510 C533.5,515.7 533.8,526.7 534,530"/>
<ellipse cx="541.5" cy="481.75" rx="11.5" ry="15.8" transform="rotate(-14 541.5 481.75)" fill="#fcfcfc" stroke="#1a1a1a" stroke-width="1.5"/>
<ellipse cx="541.5" cy="481.75" rx="9.7" ry="13.9" transform="rotate(-14 541.5 481.75)" fill="none" stroke="#333" stroke-width="1"/>
<ellipse cx="565.6" cy="471.5" rx="10.8" ry="15.2" transform="rotate(-14 565.6 471.5)" fill="#fcfcfc" stroke="#1a1a1a" stroke-width="1.5"/>
<ellipse cx="565.6" cy="471.5" rx="9" ry="13.3" transform="rotate(-14 565.6 471.5)" fill="none" stroke="#333" stroke-width="1"/>
<path class="ln" d="M528,474 C528.3,472.7 528.5,468.2 530,466 C531.5,463.8 534.5,461.8 537,461 C539.5,460.2 542.5,460.7 545,461.5 C547.5,462.3 550.8,465.2 552,466"/>
<path class="ln" d="M552,466 C552.5,464.7 553.5,460.1 555,458 C556.5,455.9 558.7,454.2 561,453.5 C563.3,452.8 566.7,452.8 569,453.5 C571.3,454.2 574,457.2 575,458"/>
<path class="ln" d="M539,498.5 C540.2,498.2 543.8,498.4 546,497 C548.2,495.6 550.3,491.9 552,490 C553.7,488.1 554.3,485.9 556,485.5 C557.7,485.1 561,487.2 562,487.5"/>
<path d="M540.5,457 C541.5,452 549,450.5 551.5,455 L552.5,460 L547.5,464.5 Z" fill="#ddd" stroke="#222" stroke-width="1"/>
<path class="th" d="M552,466 C552.3,466.7 553.8,468.7 554,470 C554.2,471.3 553.2,473.3 553,474"/>
<path d="M534.6,507.8 L579.6,488.6 L581.9,510 L537.2,528.8Z" fill="#f3f3f3" stroke="#222" stroke-width="1.2" stroke-linejoin="round"/>
<path class="th" d="M536.5,509.5 L578,491.5"/>
<path class="ln" d="M524.9,539.2 C528.2,538 538.3,534.2 545,531.5 C551.7,528.8 558,525.9 565,523 C572,520.1 583.3,515.4 587,513.9"/>
<path class="th" d="M524.9,541.2 C528.2,540 538.3,536.2 545,533.5 C551.7,530.8 558,527.9 565,525 C572,522.1 583.3,517.4 587,515.9"/>
<path class="th" d="M524.9,543.2 C528.2,542 538.3,538.2 545,535.5 C551.7,532.8 558,529.9 565,527 C572,524.1 583.3,519.4 587,517.9"/>
<path class="ln" d="M524.9,545.5 C528.2,544.2 538.3,540.4 545,537.7 C551.7,535 558,532.1 565,529.2 C572,526.3 583.3,521.6 587,520.1"/>
<ellipse cx="542.4" cy="559.25" rx="7.3" ry="9.2" transform="rotate(-12 542.4 559.25)" fill="#ededed" stroke="#222" stroke-width="1.2"/>
<ellipse cx="542.6999999999999" cy="559.85" rx="5.6" ry="7.4" transform="rotate(-12 542.4 559.25)" fill="#f7f7f7" stroke="#333" stroke-width=".9"/>
<ellipse cx="558.1" cy="552.25" rx="7.3" ry="9.2" transform="rotate(-12 558.1 552.25)" fill="#ededed" stroke="#222" stroke-width="1.2"/>
<ellipse cx="558.4" cy="552.85" rx="5.6" ry="7.4" transform="rotate(-12 558.1 552.25)" fill="#f7f7f7" stroke="#333" stroke-width=".9"/>
<ellipse cx="575.6" cy="544.4" rx="7.3" ry="9.2" transform="rotate(-12 575.6 544.4)" fill="#ededed" stroke="#222" stroke-width="1.2"/>
<ellipse cx="575.9" cy="545.0" rx="5.6" ry="7.4" transform="rotate(-12 575.6 544.4)" fill="#f7f7f7" stroke="#333" stroke-width=".9"/>
<path class="ln" d="M551,562 C551.9,562.8 554.7,565.8 556.5,566.5 C558.3,567.2 560.6,567.1 562,566 C563.4,564.9 564.5,561 565,560"/>
<path class="ln" d="M551.5,547 C552.2,546.4 554.4,544.2 556,543.5 C557.6,542.8 559.5,542.6 561,543 C562.5,543.4 564.3,545.5 565,546"/>
<path class="ln" d="M568.5,537.5 C569.4,536.9 572.1,534.5 574,534 C575.9,533.5 578.6,533.8 580,534.5 C581.4,535.2 582.1,537.4 582.5,538"/>
<path class="ln" d="M535.5,552 C536.1,551.6 537.4,549.9 539,549.5 C540.6,549.1 544,549.5 545,549.5"/>
<path class="th" d="M529,546 C529.3,548.7 530,557.3 531,562 C532,566.7 533.8,571.4 535,574 C536.2,576.6 536.2,577.1 538,577.5 C539.8,577.9 541.8,578 546,576.5 C550.2,575 557.7,571.4 563,568.5 C568.3,565.6 574.7,561.9 578,559 C581.3,556.1 581.9,554.2 583,551 C584.1,547.8 584.2,541.8 584.5,540"/>
<path d="M526,512 L525,518 L526.5,520" class="ln"/>
<ellipse cx="621.1" cy="523.4" rx="10.2" ry="13.4" transform="rotate(-14 621.1 523.4)" fill="#e8e8e8" stroke="#1a1a1a" stroke-width="1.9"/>
<ellipse cx="621.1" cy="523.4" rx="8.2" ry="11.4" transform="rotate(-14 621.1 523.4)" fill="#f4f4f4" stroke="#222" stroke-width="1.1"/>
<path d="M614.6,524.4 C615.1,517.4 620.1,513.4 624.6,513.9 C623.1,518.4 622.1,523.4 626.6,525.4 C623.1,528.4 618.1,528.4 614.6,524.4Z" fill="#f0f0f0" stroke="#222" stroke-width=".9"/>
<circle cx="621.7" cy="517.6" r="1.7" fill="#111"/>
<path d="M616.1,527.4 C620.1,530.4 625.1,528.9 628.1,525.4" class="th"/>
<ellipse cx="644.75" cy="512" rx="10.2" ry="13.4" transform="rotate(-14 644.75 512)" fill="#e8e8e8" stroke="#1a1a1a" stroke-width="1.9"/>
<ellipse cx="644.75" cy="512" rx="8.2" ry="11.4" transform="rotate(-14 644.75 512)" fill="#f4f4f4" stroke="#222" stroke-width="1.1"/>
<path d="M638.25,513 C638.75,506 643.75,502 648.25,502.5 C646.75,507 645.75,512 650.25,514 C646.75,517 641.75,517 638.25,513Z" fill="#f0f0f0" stroke="#222" stroke-width=".9"/>
<circle cx="645.35" cy="506.2" r="1.7" fill="#111"/>
<path d="M639.75,516 C643.75,519 648.75,517.5 651.75,514" class="th"/>
<path d="M578,428 L583,423 L590,421.5 L594,424 L595,430 L592,434.5 L586,437 L582,436 Z" fill="#e6e6e6" stroke="#1a1a1a" stroke-width="1.2" stroke-linejoin="round"/>
<path d="M578,428 L582,436 L580,437.5 L576.5,431Z" fill="#fff" stroke="#222" stroke-width=".9"/>
<path class="ln" d="M583,423 C583.2,424 583.3,427.3 584,429 C584.7,430.7 585.7,432.1 587,433 C588.3,433.9 591.2,434.2 592,434.5"/>
<path class="th" d="M584,429 C585,428.8 588.2,427.7 590,427.5 C591.8,427.3 594.2,427.9 595,428"/>
<circle cx="589.5" cy="425" r=".9" fill="#111"/>
<path d="M413.5,462.5 C415,459 419,459.5 425,457.5" fill="none" stroke="#1a1a1a" stroke-width="2.8" stroke-linecap="round"/>
<path d="M424.5,455.6 L440,454.6 L441,466.8 L426,464.8Z" fill="#d8d8d8" stroke="#1a1a1a" stroke-width="1.2"/>
<path d="M424.5,455.6 L428.5,455.3 L429.5,465.2 L426,464.8Z" fill="#555"/>
<path class="th" d="M433,455 L434,466"/>
<ellipse cx="443.8" cy="461" rx="4.8" ry="6.6" fill="#eee" stroke="#151515" stroke-width="2"/>
<ellipse cx="444.4" cy="461" rx="2.5" ry="4" fill="#fafafa" stroke="#555" stroke-width=".8"/>
<path d="M482,236.5 L560,201.7 L568.25,204.25 L569,213.25 L491.75,247.75 L483.5,246.25Z" fill="#ebebeb" stroke="#1c1c1c" stroke-width="1.2" stroke-linejoin="round"/>
<path d="M482,236.5 L490.25,238.75 L568.25,204.25 M490.25,238.75 L491.75,247.75" fill="none" stroke="#1c1c1c" stroke-width="1.1" stroke-linejoin="round"/>
</g>
<g id="boxes">
<rect class="bx" x="583.5" y="145.5" width="90.5" height="58"/>
<rect class="bx" x="682.5" y="145.5" width="90.5" height="58"/>
<rect class="bx" x="682.5" y="214" width="90.5" height="58"/>
<rect class="bx" x="682.5" y="280" width="90.5" height="58"/>
<rect class="bxi" x="645" y="149" width="26" height="25"/>
<rect class="bxi" x="744" y="149" width="26" height="25"/>
<rect class="bxi" x="744" y="217.5" width="26" height="25"/>
<rect class="bxi" x="744" y="283.5" width="26" height="25"/>
<text class="lbl" x="657.5" y="166.5" font-size="12">A</text>
<text class="lbl" x="756.5" y="166.5" font-size="12">B</text>
<text class="lbl" x="756.5" y="235" font-size="12">C</text>
<text class="lbl" x="756.5" y="301" font-size="12">D</text>
<text class="lbl" x="603" y="162" style="font-size:13px">11</text>
<text class="lbl" x="701" y="162" style="font-size:13px">12</text>
<text class="lbl" x="697" y="232" style="font-size:13px">13</text>
<text class="lbl" x="699" y="299" style="font-size:13px">14</text>

</g>
<g id="small">
<path d="M201.5,260 L194.9,257.6" stroke="#1a1a1a" stroke-width="2.4" stroke-linecap="round" fill="none"/>
<ellipse cx="201.5" cy="260" rx="2.5" ry="3" fill="#1c1c1c" stroke="#111" stroke-width=".6" transform="rotate(-20 201.5 260)"/>
<circle cx="202" cy="260.2" r=".8" fill="#999"/>
<path d="M195.5,306.5 L188.9,304.1" stroke="#1a1a1a" stroke-width="2.4" stroke-linecap="round" fill="none"/>
<ellipse cx="195.5" cy="306.5" rx="2.5" ry="3" fill="#1c1c1c" stroke="#111" stroke-width=".6" transform="rotate(-20 195.5 306.5)"/>
<circle cx="196" cy="306.7" r=".8" fill="#999"/>
<path d="M176,322.5 L169.2,320.7" stroke="#1a1a1a" stroke-width="2.4" stroke-linecap="round" fill="none"/>
<ellipse cx="176" cy="322.5" rx="2.5" ry="3" fill="#1c1c1c" stroke="#111" stroke-width=".6" transform="rotate(-20 176 322.5)"/>
<circle cx="176.5" cy="322.7" r=".8" fill="#999"/>
<path d="M145.5,350.5 L138.9,348.1" stroke="#1a1a1a" stroke-width="2.4" stroke-linecap="round" fill="none"/>
<ellipse cx="145.5" cy="350.5" rx="2.5" ry="3" fill="#1c1c1c" stroke="#111" stroke-width=".6" transform="rotate(-20 145.5 350.5)"/>
<circle cx="146" cy="350.7" r=".8" fill="#999"/>
<path d="M177.2,335 L177.8,339.8 L182.4,339.8 L183,335" fill="#555" stroke="#111" stroke-width=".9"/><ellipse cx="180" cy="334.3" rx="3.8" ry="2.3" fill="#2a2a2a" stroke="#111" stroke-width=".9"/><ellipse cx="179.6" cy="333.8" rx="2" ry="1" fill="#888"/>
<g transform="translate(398,247.5) scale(0.88)"><path d="M-3.6,-1.6 L-0.8,-3.6 L3.8,-2.6 L4,1.6 L1,3.8 L-3.2,2.8 Z" fill="#262626" stroke="#111" stroke-width=".9" stroke-linejoin="round"/><path d="M-2.6,-1.5 L-0.6,-2.8 L2.8,-2 L0.8,-0.7Z" fill="#d8d8d8"/><path d="M1.6,0 L3.2,-1.2 L3.2,0.8 L1.6,2Z" fill="#777"/></g>
<g transform="translate(335,357) scale(0.88)"><path d="M-3.6,-1.6 L-0.8,-3.6 L3.8,-2.6 L4,1.6 L1,3.8 L-3.2,2.8 Z" fill="#262626" stroke="#111" stroke-width=".9" stroke-linejoin="round"/><path d="M-2.6,-1.5 L-0.6,-2.8 L2.8,-2 L0.8,-0.7Z" fill="#d8d8d8"/><path d="M1.6,0 L3.2,-1.2 L3.2,0.8 L1.6,2Z" fill="#777"/></g>
<g transform="translate(335.5,409.5) scale(0.88)"><path d="M-3.6,-1.6 L-0.8,-3.6 L3.8,-2.6 L4,1.6 L1,3.8 L-3.2,2.8 Z" fill="#262626" stroke="#111" stroke-width=".9" stroke-linejoin="round"/><path d="M-2.6,-1.5 L-0.6,-2.8 L2.8,-2 L0.8,-0.7Z" fill="#d8d8d8"/><path d="M1.6,0 L3.2,-1.2 L3.2,0.8 L1.6,2Z" fill="#777"/></g>
<g transform="translate(404.5,386.8) scale(0.88)"><path d="M-3.6,-1.6 L-0.8,-3.6 L3.8,-2.6 L4,1.6 L1,3.8 L-3.2,2.8 Z" fill="#262626" stroke="#111" stroke-width=".9" stroke-linejoin="round"/><path d="M-2.6,-1.5 L-0.6,-2.8 L2.8,-2 L0.8,-0.7Z" fill="#d8d8d8"/><path d="M1.6,0 L3.2,-1.2 L3.2,0.8 L1.6,2Z" fill="#777"/></g>
<g transform="translate(436,415.5) scale(0.88)"><path d="M-3.6,-1.6 L-0.8,-3.6 L3.8,-2.6 L4,1.6 L1,3.8 L-3.2,2.8 Z" fill="#262626" stroke="#111" stroke-width=".9" stroke-linejoin="round"/><path d="M-2.6,-1.5 L-0.6,-2.8 L2.8,-2 L0.8,-0.7Z" fill="#d8d8d8"/><path d="M1.6,0 L3.2,-1.2 L3.2,0.8 L1.6,2Z" fill="#777"/></g>
<g transform="translate(386.5,484) scale(0.88)"><path d="M-3.6,-1.6 L-0.8,-3.6 L3.8,-2.6 L4,1.6 L1,3.8 L-3.2,2.8 Z" fill="#262626" stroke="#111" stroke-width=".9" stroke-linejoin="round"/><path d="M-2.6,-1.5 L-0.6,-2.8 L2.8,-2 L0.8,-0.7Z" fill="#d8d8d8"/><path d="M1.6,0 L3.2,-1.2 L3.2,0.8 L1.6,2Z" fill="#777"/></g>
<path d="M186,514.5 L191,513 L192,520.5 L188.5,521.5 Z M184.5,516 L186,516 M191.5,515 L194,515.5" fill="#1a1a1a" stroke="#111" stroke-width="1.2" stroke-linejoin="round"/>
<path d="M214.5,520.5 L209.7,519.2" stroke="#1a1a1a" stroke-width="2.4" stroke-linecap="round" fill="none"/>
<ellipse cx="214.5" cy="520.5" rx="2.5" ry="3" fill="#1c1c1c" stroke="#111" stroke-width=".6" transform="rotate(-20 214.5 520.5)"/>
<circle cx="215" cy="520.7" r=".8" fill="#999"/>
<path d="M276.5,510 L281,509 L283.5,515 L281.5,518 L277.5,517 Z" fill="#1a1a1a" stroke="#111" stroke-width="1.2" stroke-linejoin="round"/>
<path d="M305.5,506 L301.7,504.6" stroke="#1a1a1a" stroke-width="2.4" stroke-linecap="round" fill="none"/>
<ellipse cx="305.5" cy="506" rx="2.5" ry="3" fill="#1c1c1c" stroke="#111" stroke-width=".6" transform="rotate(-20 305.5 506)"/>
<circle cx="306" cy="506.2" r=".8" fill="#999"/>
<path d="M494.5,328 L489.8,326.3" stroke="#1a1a1a" stroke-width="2.4" stroke-linecap="round" fill="none"/>
<ellipse cx="494.5" cy="328" rx="2.5" ry="3" fill="#1c1c1c" stroke="#111" stroke-width=".6" transform="rotate(-20 494.5 328)"/>
<circle cx="495" cy="328.2" r=".8" fill="#999"/>
<path d="M484,408 L479.2,406.7" stroke="#1a1a1a" stroke-width="2.4" stroke-linecap="round" fill="none"/>
<ellipse cx="484" cy="408" rx="2.5" ry="3" fill="#1c1c1c" stroke="#111" stroke-width=".6" transform="rotate(-20 484 408)"/>
<circle cx="484.5" cy="408.2" r=".8" fill="#999"/>
<path d="M138.5,472.5 L142,471 L146,472.5 L147,481 L143.5,483 L139,481Z" fill="#ddd" stroke="#1a1a1a" stroke-width="1.1" stroke-linejoin="round"/><rect x="141.5" y="474.5" width="4" height="5.5" rx="1" fill="#fff" stroke="#222" stroke-width=".8"/><circle cx="143.5" cy="477.2" r="1" fill="none" stroke="#222" stroke-width=".6"/>
<path d="M510.5,320 L520,318.5 L521,323 L526.5,322.5 L527,326.5 L521,327 L519.5,331 L510,330.5Z" fill="#fff" stroke="#1a1a1a" stroke-width="1.1" stroke-linejoin="round"/><path d="M514,320 L519.5,319.3 L520.3,323.5 L515,324Z" fill="#333"/><path d="M512,324 L516,324.3 L516,328.5" fill="none" stroke="#222" stroke-width=".8"/>
<g transform="translate(565,352) rotate(-10)"><path d="M-3.5,-2 L2.5,-2.6 L3.5,1.6 L-2.5,2.4Z" fill="#222" stroke="#111" stroke-width=".8" stroke-linejoin="round"/><path d="M-2.5,-1.2 L2,-1.7" stroke="#ccc" stroke-width=".6"/></g>
<g transform="translate(526.5,369) rotate(10)"><path d="M-3.5,-2 L2.5,-2.6 L3.5,1.6 L-2.5,2.4Z" fill="#222" stroke="#111" stroke-width=".8" stroke-linejoin="round"/><path d="M-2.5,-1.2 L2,-1.7" stroke="#ccc" stroke-width=".6"/></g>
<g transform="translate(561,388.5) rotate(20)"><path d="M-3.5,-2 L2.5,-2.6 L3.5,1.6 L-2.5,2.4Z" fill="#222" stroke="#111" stroke-width=".8" stroke-linejoin="round"/><path d="M-2.5,-1.2 L2,-1.7" stroke="#ccc" stroke-width=".6"/></g>
<g transform="translate(534,405.5) rotate(-25)"><path d="M-3.5,-2 L2.5,-2.6 L3.5,1.6 L-2.5,2.4Z" fill="#222" stroke="#111" stroke-width=".8" stroke-linejoin="round"/><path d="M-2.5,-1.2 L2,-1.7" stroke="#ccc" stroke-width=".6"/></g>
<g transform="translate(631,181)"><path d="M-13,-3.5 L-1,0.5 L-2,6 L-14,1.5Z" fill="#f2f2f2" stroke="#222" stroke-width="1"/><ellipse cx="-13.8" cy="-1" rx="1.8" ry="2.6" fill="#fff" stroke="#222" stroke-width=".9" transform="rotate(-15 -13.8 -1)"/><path d="M-17,-4 L-14,-3.3 M-17.5,-0.5 L-14.5,1" stroke="#222" stroke-width=".9"/><ellipse cx="-17.3" cy="-2.2" rx="1.2" ry="1.9" fill="#fff" stroke="#222" stroke-width=".8"/><ellipse cx="3" cy="5" rx="6" ry="8" fill="#f0f0f0" stroke="#1a1a1a" stroke-width="1.2" transform="rotate(-15 3 5)"/><ellipse cx="5" cy="5.5" rx="4.6" ry="6.6" fill="#fff" stroke="#222" stroke-width="1" transform="rotate(-15 5 5.5)"/><ellipse cx="6" cy="6" rx="2" ry="2.8" fill="#eee" stroke="#333" stroke-width=".8" transform="rotate(-15 6 6)"/></g>
<g transform="translate(727,182)"><path d="M-19,-3 L-14,-10 L-6,-9 L-5,5 L-13,3Z" fill="#333" stroke="#111" stroke-width="1"/><path d="M-12,-8 L-11,3 M-9.5,-8.5 L-8.5,4 M-15,-6 L-14,1" stroke="#ddd" stroke-width=".7"/><ellipse cx="-0.5" cy="0" rx="5.5" ry="13" fill="#f5f5f5" stroke="#1a1a1a" stroke-width="1.2" transform="rotate(-10 -0.5 0)"/><path d="M-3,-11 L1,11 M-5.5,-2 L4.5,-3.5" stroke="#222" stroke-width="1"/><ellipse cx="8" cy="-1" rx="4.6" ry="11.5" fill="#f3f3f3" stroke="#1a1a1a" stroke-width="1.2" transform="rotate(-10 8 -1)"/><path d="M2,-12 L7,-12.5 M3,10.5 L9,10.3" stroke="#1a1a1a" stroke-width="1"/></g>
<g transform="translate(727,252)"><path d="M-17,-6.5 L-3,-2.5 L-4,5 L-18,0.5Z" fill="#f2f2f2" stroke="#222" stroke-width="1"/><ellipse cx="-17.6" cy="-3" rx="2.2" ry="3.7" fill="#fff" stroke="#222" stroke-width=".9" transform="rotate(-12 -17.6 -3)"/><ellipse cx="1.5" cy="2.5" rx="6" ry="8.3" fill="#e6e6e6" stroke="#1a1a1a" stroke-width="1.3" transform="rotate(-12 1.5 2.5)"/><ellipse cx="2.6" cy="2.8" rx="4.2" ry="6.2" fill="#f8f8f8" stroke="#222" stroke-width=".9" transform="rotate(-12 2.6 2.8)"/><ellipse cx="3" cy="3" rx="2" ry="2.8" fill="#ddd" stroke="#333" stroke-width=".7"/></g>
<path d="M727.2,314 L733.7,312.4 L737.7,323 L731.2,324.6Z" fill="#fff" stroke="#1a1a1a" stroke-width="1" stroke-linejoin="round"/>
<path d="M716.6,315.7 L720.5,313.2 L733.7,312.4 L727.2,314Z" fill="#f4f4f4" stroke="#1a1a1a" stroke-width="1" stroke-linejoin="round"/>
<path d="M716.6,315.7 L727.2,314 L730.4,326.3 L720.6,327.9Z" fill="#b9b9b9" stroke="#1a1a1a" stroke-width="1.1" stroke-linejoin="round"/>
<path d="M718.6,317.3 L726,316.1 L728.4,325 L721.6,326.1Z" fill="#a0a0a0"/>
<path d="M595,163.7 L613,163.7 L618,175" class="ld"/>
<path d="M693,164.5 L712,164.5 L716,173" class="ld"/>
<path d="M689.75,234.9 L708.5,234.9 L715,244" class="ld"/>
<path d="M690.6,301.9 L710.9,301.9 L723,313.3" class="ld"/>
</g>
<g id="callouts">
<path d="M157,242 L196,258.5" class="dash"/>
<path d="M152,285 L191,304" class="dash"/>
<path d="M142,308 L173,321.5" class="dash"/>
<path d="M124,341 L143,349.5" class="dash"/>
<path d="M177,341 L164,378" class="dash"/>
<path d="M397,251 L388,285" class="dash"/>
<path d="M141,515.5 L185,517.5" class="dash"/>
<path d="M168,436 L214,520" class="dash"/>
<path d="M179,492 L211,519" class="dash"/>
<path d="M279,466 L280,510" class="dash"/>
<path d="M262,489 L303,504.5" class="dash"/>
<path d="M318,353 L333,357" class="dash"/>
<path d="M318,408 L333,410" class="dash"/>
<path d="M375,386 L402,387" class="dash"/>
<path d="M400,404 L434,416" class="dash"/>
<path d="M352,481 L384,484" class="dash"/>
<path d="M310,433 L412,459" class="dash"/>
<path d="M447,306 L492,327" class="dash"/>
<path d="M436,389 L481,407" class="dash"/>
<path d="M541,481 L613,519" class="dash"/>
<path d="M565,471 L636,507" class="dash"/>
<path d="M552,455 L583,434" class="dash"/>
<path d="M519,428 L556,447" class="dash"/>
<path d="M625,525 L650,538" class="dash"/>
<path d="M648,514 L668,524" class="dash"/>
<path d="M178,270.5 L196.5,262.5" class="ld"/>
<path d="M196.5,262.5 L193.4,265.3 L192.3,262.8Z" fill="#333"/>
<path d="M173.5,281.7 L192.5,303.5" class="ld"/>
<path d="M192.5,303.5 L188.9,301.4 L190.9,299.6Z" fill="#333"/>
<path d="M171.3,282.8 L176,318.5" class="ld"/>
<path d="M176,318.5 L174.1,314.7 L176.8,314.4Z" fill="#333"/>
<path d="M167.3,282.5 L146.5,346.5" class="ld"/>
<path d="M146.5,346.5 L146.4,342.3 L149,343.1Z" fill="#333"/>
<path d="M110.5,380.5 L177.5,340" class="ld"/>
<path d="M411,232.5 L400.5,244.5" class="ld"/>
<path d="M400.5,244.5 L402.1,240.6 L404.1,242.4Z" fill="#333"/>
<path d="M61.5,347.5 L68.5,341.5" class="ld"/>
<path d="M545.5,306.5 L527,323" class="ld"/>
<path d="M527,323 L529.1,319.3 L530.9,321.4Z" fill="#333"/>
<path d="M521.8,202.7 L524.5,216.5" class="ld"/>
<path d="M524.5,216.5 L522.4,212.9 L525.1,212.3Z" fill="#333"/>
<path d="M496,377.3 L495,332" class="ld"/>
<path d="M495,332 L496.4,335.9 L493.7,336Z" fill="#333"/>
<path d="M492,393.5 L485.5,405" class="ld"/>
<path d="M485.5,405 L486.3,400.9 L488.6,402.2Z" fill="#333"/>
<path d="M552,369.5 L563,354.5" class="ld"/>
<path d="M563,354.5 L561.7,358.5 L559.6,356.9Z" fill="#333"/>
<path d="M538.5,373.5 L529.5,370" class="ld"/>
<path d="M529.5,370 L533.7,370.2 L532.7,372.7Z" fill="#333"/>
<path d="M551.5,383 L559,387.5" class="ld"/>
<path d="M559,387.5 L554.9,386.6 L556.3,384.3Z" fill="#333"/>
<path d="M542,383.5 L535,402.5" class="ld"/>
<path d="M535,402.5 L535.1,398.3 L537.7,399.2Z" fill="#333"/>
<path d="M676,404.5 L647,389" class="ld"/>
<path d="M647,389 L651.1,389.7 L649.9,392.1Z" fill="#333"/>
<path d="M628.5,438.8 L594,433.8" class="ld"/>
<path d="M594,433.8 L598.1,433 L597.7,435.7Z" fill="#333"/>
<path d="M681.8,512.8 L655,509" class="ld"/>
<path d="M466.5,465.8 L471,437" class="ld"/>
<path d="M471,437 L471.7,441.1 L469,440.7Z" fill="#333"/>
<path d="M441.5,493 L437.5,466.5" class="ld"/>
<path d="M437.5,466.5 L439.4,470.2 L436.7,470.6Z" fill="#333"/>
<path d="M490,531 L533,497" class="ld"/>
<path d="M394.5,438 L338,359.5" class="ld"/>
<path d="M396,436 L337.5,411.5" class="ld"/>
<path d="M403,433.7 L404.5,391" class="ld"/>
<path d="M409.5,437.5 L433,418" class="ld"/>
<path d="M400,450.7 L388.5,481" class="ld"/>
<path d="M388.5,481 L388.6,476.8 L391.2,477.8Z" fill="#333"/>
<path d="M116,494.5 L139,479" class="ld"/>
<path d="M139,479 L136.5,482.3 L134.9,480.1Z" fill="#333"/>
<path d="M202.5,541.5 L190.5,521.5" class="ld"/>
<path d="M190.5,521.5 L193.7,524.2 L191.4,525.6Z" fill="#333"/>
<path d="M215,546 L277,517" class="ld"/>
<path d="M294,540 L218,522" class="ld"/>
<path d="M303,532.8 L305.5,509.5" class="ld"/>
<path d="M305.5,509.5 L306.4,513.6 L303.7,513.3Z" fill="#333"/>
<g class="co"><circle cx="170" cy="274.2" r="8.7"/><text x="170" y="278.9" style="font-size:13px">A</text></g>
<g class="co"><circle cx="103" cy="385.5" r="8.7"/><text x="103" y="390.2" style="font-size:13px">B</text></g>
<g class="co"><circle cx="54" cy="352.5" r="9.3"/><text x="54" y="357.2" style="font-size:13px">4</text></g>
<g class="co"><circle cx="416" cy="226" r="8.7"/><text x="416" y="230.7" style="font-size:13px">B</text></g>
<g class="co"><circle cx="553" cy="302.8" r="8.7"/><text x="553" y="307.5" style="font-size:13px">9</text></g>
<g class="co"><circle cx="521.5" cy="190.7" r="11.8"/><text x="521.5" y="195.4" style="font-size:13px">10</text></g>
<g class="co"><circle cx="496" cy="386" r="8.7"/><text x="496" y="390.7" style="font-size:13px">C</text></g>
<g class="co"><circle cx="546.8" cy="376" r="8.7"/><text x="546.8" y="380.7" style="font-size:13px">D</text></g>
<g class="co"><circle cx="683.7" cy="409.2" r="8.7"/><text x="683.7" y="413.9" style="font-size:13px">2</text></g>
<g class="co"><circle cx="637.5" cy="439.8" r="8.7"/><text x="637.5" y="444.5" style="font-size:13px">6</text></g>
<g class="co"><circle cx="690.5" cy="514" r="8.7"/><text x="690.5" y="518.7" style="font-size:13px">5</text></g>
<g class="co"><circle cx="467.8" cy="474.4" r="8.7"/><text x="467.8" y="479.1" style="font-size:13px">7</text></g>
<g class="co"><circle cx="442.5" cy="501.7" r="8.7"/><text x="442.5" y="506.4" style="font-size:13px">8</text></g>
<g class="co"><circle cx="483.2" cy="537.7" r="8.7"/><text x="483.2" y="542.4" style="font-size:13px">3</text></g>
<g class="co"><circle cx="402.5" cy="442.3" r="8.7"/><text x="402.5" y="447" style="font-size:13px">B</text></g>
<g class="co"><circle cx="109" cy="499.7" r="8.7"/><text x="109" y="504.4" style="font-size:13px">9</text></g>
<g class="co"><circle cx="207.3" cy="549.5" r="8.7"/><text x="207.3" y="554.2" style="font-size:13px">B</text></g>
<g class="co"><circle cx="302.5" cy="541.7" r="8.7"/><text x="302.5" y="546.4" style="font-size:13px">C</text></g>
<g><path d="M307.8,258 L304.3,292" fill="none" stroke="#cd2d7d" stroke-width="3" stroke-linecap="butt"/><path d="M296.3,285.5 L304.8,291.5 L313.3,287.5 L304,300Z" fill="#cd2d7d" stroke="#cd2d7d" stroke-width="1.5" stroke-linejoin="round"/><circle cx="309" cy="247.5" r="10" fill="#fff" stroke="#cd2d7d" stroke-width="4"/><text class="lbl" x="309.2" y="251.6" style="font-size:11.5px;font-weight:bold">1</text></g>
</g>
<g id="watermark">
<circle cx="403" cy="375.5" r="80.5" fill="none" stroke="#000" stroke-opacity=".075" stroke-width="16"/>
<path d="M429.4,339.5 A35.5,53 0 1 0 429.4,410.5" fill="none" stroke="#000" stroke-opacity=".075" stroke-width="19"/>
<text x="166" y="526.5" textLength="252" lengthAdjust="spacingAndGlyphs" font-family="Liberation Sans, sans-serif" font-size="42" fill="#000" fill-opacity=".1">COPYRIGHT</text>
<g opacity=".065"><text x="434" y="526" textLength="203" lengthAdjust="spacingAndGlyphs" font-family="Liberation Sans, sans-serif" font-style="italic" font-size="58" fill="#000" stroke="#000" stroke-width="1.6">ProVSP</text></g>
</g>
<g id="banner">
<polygon points="358.5,0 437.5,0 0,437.5 0,358.5" fill="#3db9e2" fill-opacity=".5"/>
<text transform="translate(207.5,190.5) rotate(-45)" x="1" y="11" text-anchor="middle" textLength="394" lengthAdjust="spacingAndGlyphs" font-family="Liberation Sans, sans-serif" font-weight="bold" font-size="48" fill="#fff">pro-piece-vsp.com</text>

</g>
<g id="logo">
<g fill="none" stroke-linecap="round" stroke-linejoin="round">
<path d="M648.1,623.4 L656.2,598 Q656.8,596.3 659,596 Q691.25,591.6 723.5,596 Q725.7,596.3 726.3,598 L734.4,623.4" stroke="#e0457d" stroke-width="2.2"/>
<g stroke="#3d4259" stroke-width="1.9">
<path d="M656.6,616 L660.3,602.8 C680,601.6 702,601.4 722.2,601.9"/>
<path d="M657.5,620.6 C680,619.4 703,619.3 726.9,619.7 L724,613"/>
<path d="M643.4,629 C644.6,626 645,623.5 644.4,620.6 C643.8,617.5 642.5,615.6 640.6,615 C638.5,614.3 636,614.3 634,615 C631.5,616 630,617.5 630.3,619.7 C630.6,622 631.5,623.6 633.1,624.4 C635.5,625.3 638.5,624.5 640.6,623.4"/>
<path d="M739.10,629 C737.90,626 737.50,623.5 738.10,620.6 C738.70,617.5 740.00,615.6 741.90,615 C744.00,614.3 746.50,614.3 748.50,615 C751.00,616 752.50,617.5 752.20,619.7 C751.90,622 751.00,623.6 749.40,624.4 C747.00,625.3 744.00,624.5 741.90,623.4"/>
<path d="M643.4,629 C641,632.5 639.5,635.5 638.75,639.4 C637.8,644.5 637.4,649.5 637.8,654.4 C638.2,658.5 639.2,662 640.6,665.6"/>
<path d="M739.10,629 C741.50,632.5 743.00,635.5 743.75,639.4 C744.70,644.5 745.10,649.5 744.70,654.4 C744.30,658.5 743.30,662 741.90,665.6"/>
<path d="M644.4,633.75 C649,635 653.5,637 657.5,639.4 C660.5,641.3 663.5,643.5 666,646 C665,647 663.8,647.6 662.2,647.8 C657.5,647.3 652.5,646 648.1,644 C645.8,642.5 644.6,640.6 644.4,638.4 C644.2,636.8 644.2,635.2 644.4,633.75Z"/>
<path d="M738.10,633.75 C733.50,635 729.00,637 725.00,639.4 C722.00,641.3 719.00,643.5 716.50,646 C717.50,647 718.70,647.6 720.30,647.8 C725.00,647.3 730.00,646 734.40,644 C736.70,642.5 737.90,640.6 738.10,638.4 C738.30,636.8 738.30,635.2 738.10,633.75Z"/>
<path d="M648.1,624.4 C651,628 654,631 657.5,633.75 C660.5,636 663.6,637.8 666.9,639.4"/>
<path d="M734.40,624.4 C731.50,628 728.50,631 725.00,633.75 C722.00,636 718.90,637.8 715.60,639.4"/>
<path d="M644.4,657.2 C648.5,658.2 653,658.6 657.5,659 C660,659.6 662.2,660.6 664,661.9"/>
<path d="M738.10,657.2 C734.00,658.2 729.50,658.6 725.00,659 C722.50,659.6 720.30,660.6 718.50,661.9"/>
<path d="M642.5,648.75 C650,651 658,652.6 666.9,653.4 C675,654.6 683,655.3 691.25,655.3 C699.5,655.3 707.5,654.6 715.6,653.4 C724.5,652.6 732.5,651 740,648.75" stroke-width="2.2"/>
<path d="M668.2,662.5 L668.75,660 C676,658.6 683.5,658 691.25,658 C699,658 706.5,658.6 713.75,660 L714.3,662.5"/>
</g>
<path d="M683,679.4 L690,679.4 M727,679.4 L735,679.4" stroke="#e5457d" stroke-width="1.2"/>
</g>
<text x="708.5" y="682" text-anchor="middle" textLength="32" lengthAdjust="spacingAndGlyphs" font-family="Liberation Sans, sans-serif" font-weight="bold" font-style="italic" font-size="7.5" fill="#e5457d">GROUP</text>
<path d="M750,677 L758.7,682 L758.7,692 L750,697 L741.3,692 L741.3,682Z M750,682.4 A4.6,4.6 0 1 0 750.01,682.4Z" fill="#e5457d" fill-rule="evenodd"/>
<circle cx="743.4" cy="685.6" r="2.2" fill="#fff" stroke="#e5457d" stroke-width="1.3"/>
<text x="628" y="720" textLength="123" lengthAdjust="spacingAndGlyphs" font-family="Liberation Sans, sans-serif" font-weight="bold" font-style="italic" font-size="63" fill="#3d4159" stroke="#3d4159" stroke-width="2.4" stroke-linejoin="round">Pro</text>
<text x="623" y="761.5" textLength="137" lengthAdjust="spacingAndGlyphs" font-family="Liberation Sans, sans-serif" font-weight="bold" font-style="italic" font-size="49" fill="#6dc6e7" stroke="#6dc6e7" stroke-width="1.8" stroke-linejoin="round">VSP</text>

</g>
</svg>
</body></html>
